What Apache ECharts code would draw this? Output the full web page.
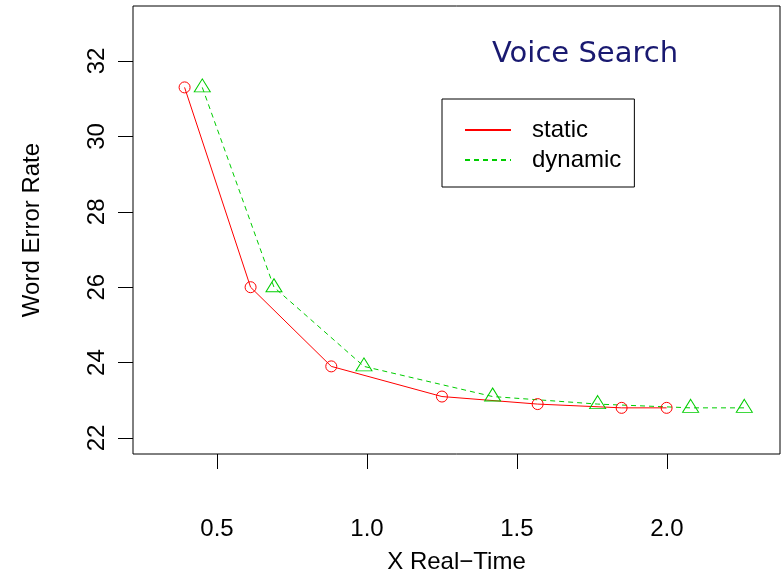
<!DOCTYPE html>
<html>
<head>
<meta charset="utf-8">
<script src="https://cdn.jsdelivr.net/npm/echarts@6/dist/echarts.min.js"></script>
<style>html,body{margin:0;padding:0;background:#fff;}#c{width:783px;height:574px;}</style>
</head>
<body>
<div id="c"></div>
<script>
const staticX = [0.392, 0.612, 0.881, 1.25, 1.569, 1.849, 1.999];
const staticY = [31.3, 26.0, 23.9, 23.1, 22.9, 22.8, 22.8];
const dynamicX = [0.451, 0.69, 0.99, 1.419, 1.769, 2.079, 2.258];
const dynamicY = [31.3, 26.0, 23.9, 23.1, 22.9, 22.8, 22.8];
const xTicks = [0.5, 1.0, 1.5, 2.0];
const yTicks = [22, 24, 26, 28, 30, 32];

const FONT = 'Liberation Sans';
const chart = echarts.init(document.getElementById('c'), null, {renderer: 'canvas'});
const pair = (xs, ys) => xs.map((x, i) => [x, ys[i]]);

chart.setOption({
  animation: false,
  backgroundColor: '#fff',
  title: {
    text: 'Voice Search',
    left: 487, top: 35,
    textStyle: {fontFamily: 'DejaVu Sans', fontWeight: 'normal', fontSize: 29, color: '#191970'}
  },
  legend: {
    orient: 'vertical',
    left: 442, top: 99,
    padding: [19, 13, 15, 22],
    itemGap: 6,
    itemWidth: 46, itemHeight: 14,
    borderColor: '#000', borderWidth: 1,
    backgroundColor: '#fff',
    itemStyle: {opacity: 0},
    textStyle: {fontFamily: FONT, fontSize: 24, color: '#000', padding: [0, 0, 0, 16]},
    data: ['static', 'dynamic']
  },
  grid: {left: 133, right: 3, top: 6, bottom: 120, show: true, borderColor: '#000', borderWidth: 1,
    containLabel: false, outerBoundsMode: 'none'},
  xAxis: {
    type: 'value', min: 0.22, max: 2.377,
    splitLine: {show: false},
    axisLine: {show: false},
    axisTick: {show: true, length: 15, inside: false, customValues: xTicks, lineStyle: {color: '#000'}},
    axisLabel: {customValues: xTicks, margin: 63, fontFamily: FONT, fontSize: 24, color: '#000',
      formatter: v => v.toFixed(1)},
    name: 'X Real\u2212Time', nameLocation: 'middle', nameGap: 96,
    nameTextStyle: {fontFamily: FONT, fontSize: 24, color: '#000'}
  },
  yAxis: {
    type: 'value', min: 21.576, max: 33.459,
    splitLine: {show: false},
    axisLine: {show: false},
    axisTick: {show: true, length: 15, inside: false, customValues: yTicks, lineStyle: {color: '#000'}},
    axisLabel: {customValues: yTicks, margin: 24, rotate: 90, fontFamily: FONT, fontSize: 24, color: '#000'},
    name: 'Word Error Rate', nameLocation: 'middle', nameGap: 89,
    nameTextStyle: {fontFamily: FONT, fontSize: 24, color: '#000'}
  },
  series: [
    {
      name: 'static', type: 'line', data: pair(staticX, staticY),
      symbol: 'circle', symbolSize: 11,
      lineStyle: {color: '#ff0000', width: 1},
      itemStyle: {color: 'rgba(0,0,0,0)', borderColor: '#ff0000', borderWidth: 1},
      color: '#ff0000'
    },
    {
      name: 'dynamic', type: 'line', data: pair(dynamicX, dynamicY),
      symbol: 'triangle', symbolSize: [16, 13], symbolOffset: [0, -2],
      lineStyle: {color: '#00cd00', width: 1, type: [5, 4]},
      itemStyle: {color: 'rgba(0,0,0,0)', borderColor: '#00cd00', borderWidth: 1},
      color: '#00cd00'
    }
  ]
});
</script>
</body>
</html>
